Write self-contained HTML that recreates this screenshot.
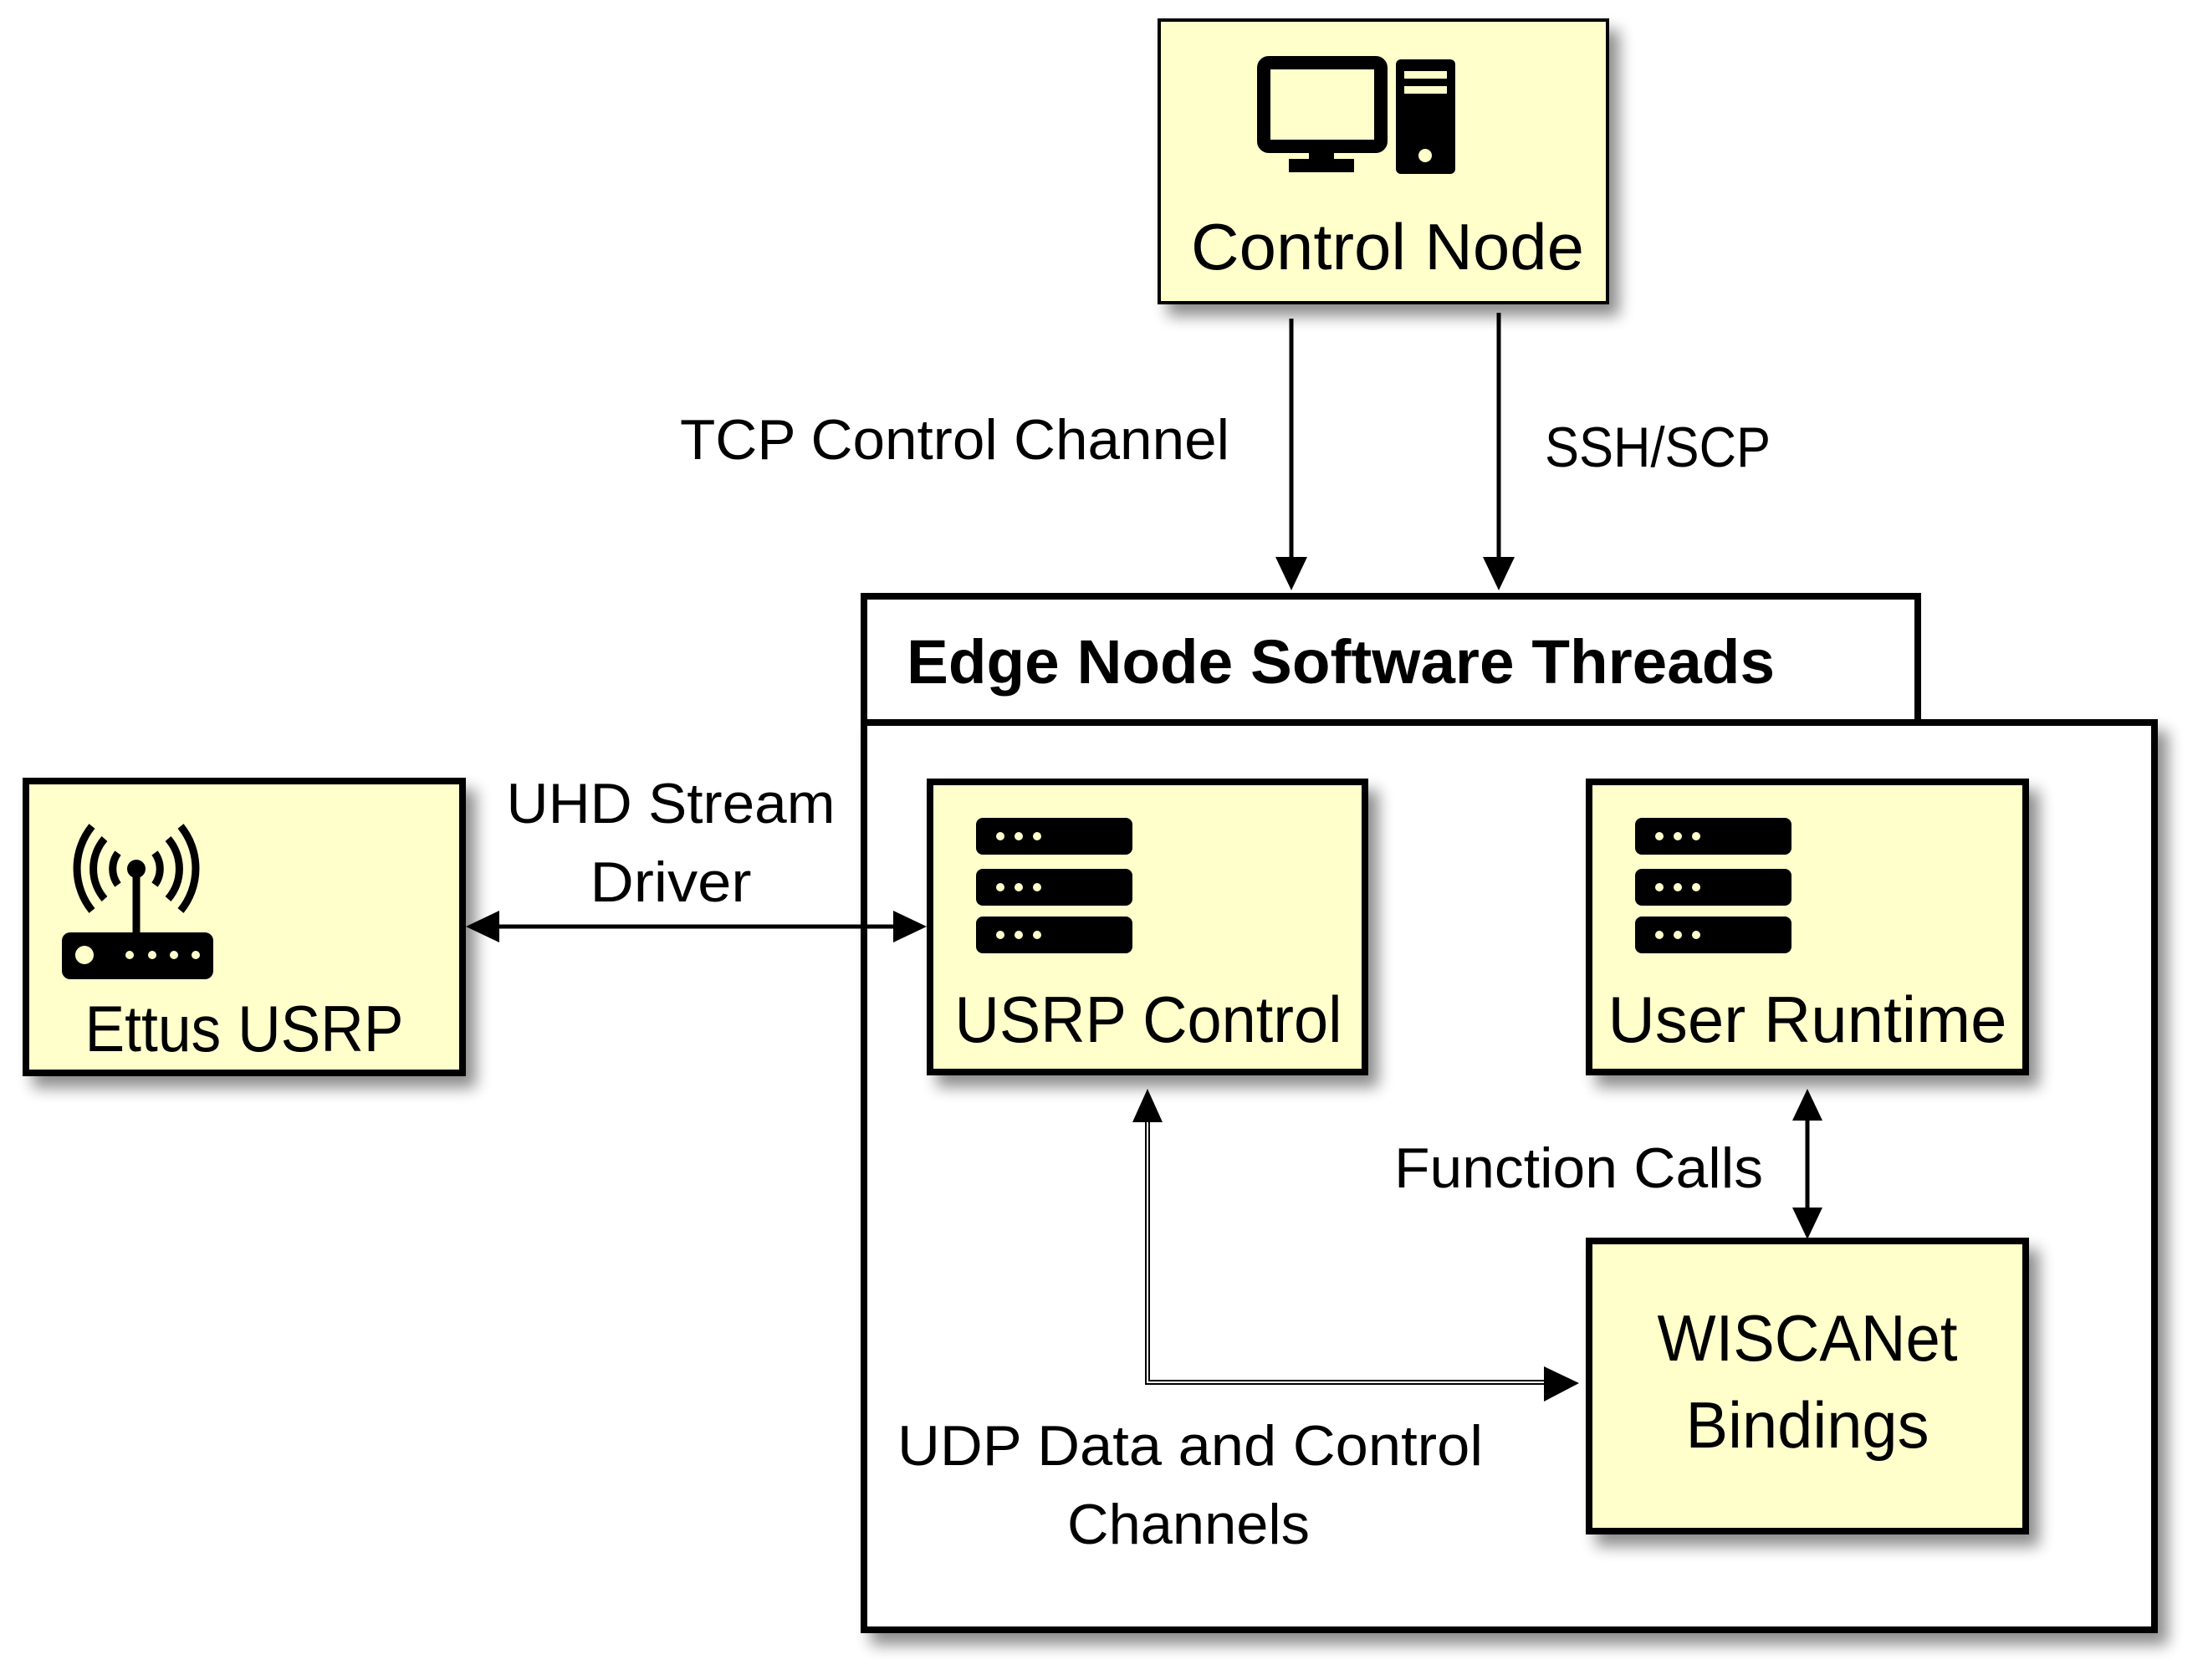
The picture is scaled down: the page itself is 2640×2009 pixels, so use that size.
<!DOCTYPE html>
<html><head><meta charset="utf-8"><style>
html,body{margin:0;padding:0;background:#fff;}
svg{display:block;}
text{font-family:"Liberation Sans",sans-serif;fill:#000;}
</style></head><body>
<svg width="2640" height="2009" viewBox="0 0 2640 2009" xmlns="http://www.w3.org/2000/svg">
<defs>
<filter id="sh" x="-10%" y="-10%" width="130%" height="130%">
<feGaussianBlur in="SourceAlpha" stdDeviation="9"/>
<feOffset dx="12" dy="14"/>
<feComponentTransfer><feFuncA type="linear" slope="0.45"/></feComponentTransfer>
<feMerge><feMergeNode/><feMergeNode in="SourceGraphic"/></feMerge>
</filter>
<g id="server">
<rect x="0" y="0" width="187" height="44" rx="8" fill="#000"/>
<rect x="0" y="61" width="187" height="44" rx="8" fill="#000"/>
<rect x="0" y="118" width="187" height="44" rx="8" fill="#000"/>
<g fill="#ffffcc">
<circle cx="29" cy="22" r="5"/><circle cx="51" cy="22" r="5"/><circle cx="73" cy="22" r="5"/>
<circle cx="29" cy="83" r="5"/><circle cx="51" cy="83" r="5"/><circle cx="73" cy="83" r="5"/>
<circle cx="29" cy="140" r="5"/><circle cx="51" cy="140" r="5"/><circle cx="73" cy="140" r="5"/>
</g>
</g>
</defs>

<!-- Control Node -->
<rect x="1386" y="24" width="536" height="338" fill="#ffffcc" stroke="#000" stroke-width="4" filter="url(#sh)"/>
<g>
<rect x="1511" y="75" width="140" height="100" rx="6" fill="none" stroke="#000" stroke-width="16"/>
<rect x="1565" y="180" width="30" height="12" fill="#000"/>
<rect x="1541" y="190" width="78" height="16" fill="#000"/>
<rect x="1669" y="71" width="71" height="137" rx="6" fill="#000"/>
<rect x="1679" y="85" width="51" height="9" fill="#ffffcc"/>
<rect x="1679" y="103" width="51" height="9" fill="#ffffcc"/>
<circle cx="1704" cy="186" r="8" fill="#ffffcc"/>
</g>
<text x="1659" y="322" font-size="78" text-anchor="middle" textLength="470" lengthAdjust="spacingAndGlyphs">Control Node</text>

<!-- arrows down -->
<line x1="1544" y1="381" x2="1544" y2="670" stroke="#000" stroke-width="5"/>
<polygon points="1525,666 1563,666 1544,706" fill="#000"/>
<line x1="1792" y1="374" x2="1792" y2="670" stroke="#000" stroke-width="5"/>
<polygon points="1773,666 1811,666 1792,706" fill="#000"/>
<text x="813" y="549" font-size="68" textLength="657" lengthAdjust="spacingAndGlyphs">TCP Control Channel</text>
<text x="1847" y="558" font-size="68" textLength="270" lengthAdjust="spacingAndGlyphs">SSH/SCP</text>

<!-- Edge node container -->
<rect x="1033" y="864" width="1543" height="1085" fill="#fff" stroke="#000" stroke-width="8" filter="url(#sh)"/>
<rect x="1033" y="713" width="1260" height="151" fill="#fff" stroke="#000" stroke-width="8"/>
<text x="1084" y="817" font-size="74" font-weight="bold" textLength="1038" lengthAdjust="spacingAndGlyphs">Edge Node Software Threads</text>

<!-- Ettus USRP -->
<rect x="31" y="934" width="522" height="349" fill="#ffffcc" stroke="#000" stroke-width="8" filter="url(#sh)"/>
<g>
<rect x="74" y="1115" width="181" height="56" rx="10" fill="#000"/>
<circle cx="101" cy="1142" r="11" fill="#ffffcc"/>
<circle cx="155" cy="1142" r="5" fill="#ffffcc"/><circle cx="182" cy="1142" r="5" fill="#ffffcc"/><circle cx="208" cy="1142" r="5" fill="#ffffcc"/><circle cx="234" cy="1142" r="5" fill="#ffffcc"/>
<line x1="163" y1="1040" x2="163" y2="1116" stroke="#000" stroke-width="9"/>
<circle cx="163" cy="1039" r="11" fill="#000"/>
<g fill="none" stroke="#000" stroke-width="9">
<path d="M141,1020 A32,32 0 0 0 141,1058"/><path d="M185,1020 A32,32 0 0 1 185,1058"/>
<path d="M125,1003 A55,55 0 0 0 125,1075"/><path d="M201,1003 A55,55 0 0 1 201,1075"/>
<path d="M110,988 A80,80 0 0 0 110,1089"/><path d="M216,988 A80,80 0 0 1 216,1089"/>
</g>
</g>
<text x="292" y="1257" font-size="78" text-anchor="middle" textLength="381" lengthAdjust="spacingAndGlyphs">Ettus USRP</text>

<!-- UHD arrow -->
<line x1="590" y1="1108" x2="1075" y2="1108" stroke="#000" stroke-width="5"/>
<polygon points="557,1108 597,1089 597,1127" fill="#000"/>
<polygon points="1108,1108 1068,1089 1068,1127" fill="#000"/>
<text x="802" y="984" font-size="68" text-anchor="middle" textLength="393" lengthAdjust="spacingAndGlyphs">UHD Stream</text>
<text x="802" y="1078" font-size="68" text-anchor="middle" textLength="193" lengthAdjust="spacingAndGlyphs">Driver</text>

<!-- USRP Control -->
<rect x="1112" y="935" width="520" height="347" fill="#ffffcc" stroke="#000" stroke-width="8" filter="url(#sh)"/>
<use href="#server" x="1167" y="978"/>
<text x="1373" y="1246" font-size="78" text-anchor="middle" textLength="463" lengthAdjust="spacingAndGlyphs">USRP Control</text>

<!-- User Runtime -->
<rect x="1900" y="935" width="522" height="347" fill="#ffffcc" stroke="#000" stroke-width="8" filter="url(#sh)"/>
<use href="#server" x="1955" y="978"/>
<text x="2161" y="1246" font-size="78" text-anchor="middle" textLength="477" lengthAdjust="spacingAndGlyphs">User Runtime</text>

<!-- WISCANet Bindings -->
<rect x="1900" y="1484" width="522" height="347" fill="#ffffcc" stroke="#000" stroke-width="8" filter="url(#sh)"/>
<text x="2161" y="1627" font-size="78" text-anchor="middle" textLength="359" lengthAdjust="spacingAndGlyphs">WISCANet</text>
<text x="2161" y="1731" font-size="78" text-anchor="middle" textLength="291" lengthAdjust="spacingAndGlyphs">Bindings</text>

<!-- Function calls -->
<line x1="2161" y1="1330" x2="2161" y2="1455" stroke="#000" stroke-width="5"/>
<polygon points="2161,1302 2143,1340 2179,1340" fill="#000"/>
<polygon points="2161,1482 2143,1444 2179,1444" fill="#000"/>
<text x="1667" y="1420" font-size="68" textLength="441" lengthAdjust="spacingAndGlyphs">Function Calls</text>

<!-- UDP double line -->
<path d="M1372,1340 L1372,1653 L1850,1653" fill="none" stroke="#000" stroke-width="6"/>
<path d="M1372,1340 L1372,1653 L1850,1653" fill="none" stroke="#fff" stroke-width="2"/>
<polygon points="1372,1302 1354,1342 1390,1342" fill="#000"/>
<polygon points="1888,1654 1846,1634 1846,1676" fill="#000"/>
<text x="1423" y="1752" font-size="68" text-anchor="middle" textLength="700" lengthAdjust="spacingAndGlyphs">UDP Data and Control</text>
<text x="1421" y="1846" font-size="68" text-anchor="middle" textLength="290" lengthAdjust="spacingAndGlyphs">Channels</text>
</svg>
</body></html>
